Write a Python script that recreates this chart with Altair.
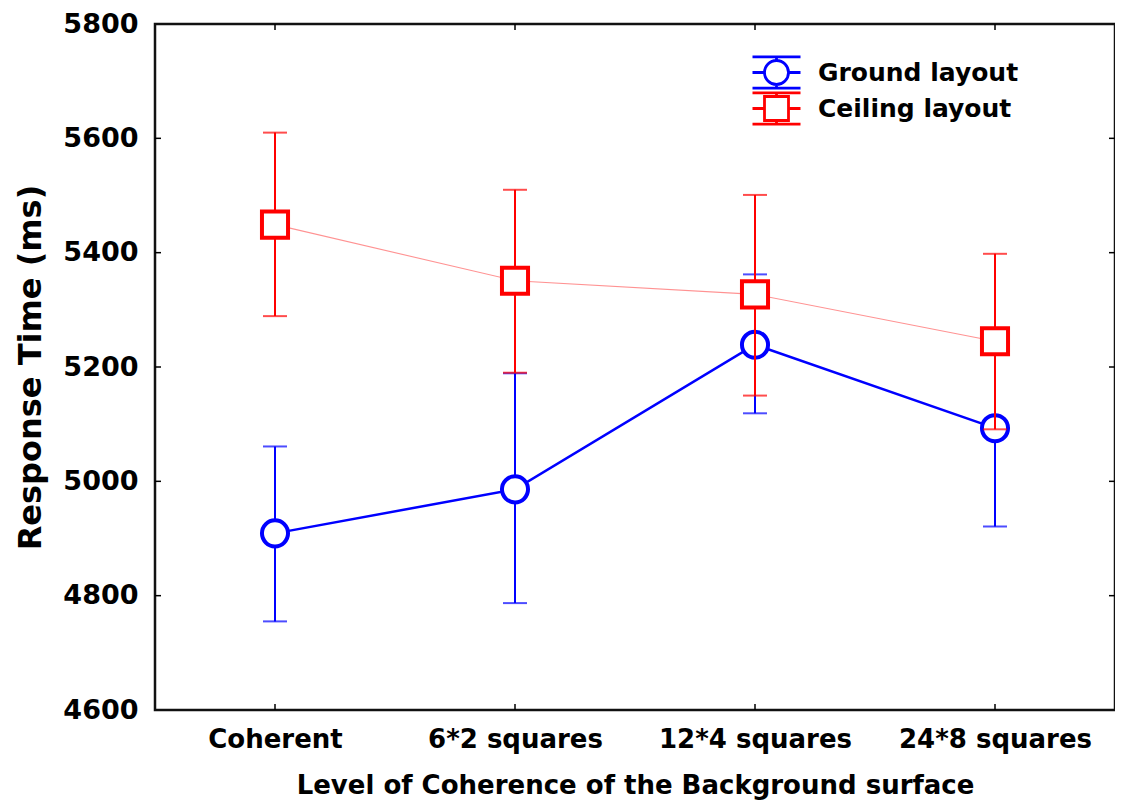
import altair as alt
import pandas as pd

categories = ["Coherent", "6*2 squares", "12*4 squares", "24*8 squares"]
series_names = ["Ground layout", "Ceiling layout"]

ground_mean = [4909, 4986, 5239, 5093]
ground_hi = [5061, 5189, 5362, 5265]
ground_lo = [4755, 4787, 5119, 4921]

ceiling_mean = [5449, 5351, 5327, 5245]
ceiling_hi = [5610, 5510, 5501, 5398]
ceiling_lo = [5289, 5190, 5150, 5091]

y_ticks = [4600, 4800, 5000, 5200, 5400, 5600, 5800]
inner_y_ticks = [4800, 5000, 5200, 5400, 5600]

BLUE = "#0000ff"
RED = "#ff0000"
FONT = "DejaVu Sans"

rows = []
for s, m, hi, lo in [
    (series_names[0], ground_mean, ground_hi, ground_lo),
    (series_names[1], ceiling_mean, ceiling_hi, ceiling_lo),
]:
    for c, mv, h, l in zip(categories, m, hi, lo):
        rows.append({"series": s, "cat": c, "mean": mv, "hi": h, "lo": l})
df = pd.DataFrame(rows)

W, H = 960, 686

xscale = alt.Scale(type="point", domain=categories, padding=0.5)
yscale = alt.Scale(domain=[4600, 5800], nice=False, zero=False)

xenc = alt.X(
    "cat:N",
    scale=xscale,
    sort=categories,
    axis=alt.Axis(
        title="Level of Coherence of the Background surface",
        labelAngle=0,
        labelAlign="center",
        ticks=False,
        domain=False,
        labelLimit=0,
        labelFont=FONT,
        labelFontSize=26,
        labelFontWeight="bold",
        labelColor="black",
        labelPadding=29,
        titleFont=FONT,
        titleFontSize=26,
        titleFontWeight="bold",
        titleColor="black",
        titlePadding=20,
    ),
)
yenc = alt.Y(
    "mean:Q",
    scale=yscale,
    axis=alt.Axis(
        title="Response Time (ms)",
        values=y_ticks,
        format="d",
        ticks=False,
        domain=False,
        grid=False,
        labelFont=FONT,
        labelFontSize=27,
        labelFontWeight="bold",
        labelColor="black",
        labelPadding=17,
        titleFont=FONT,
        titleFontSize=32,
        titleFontWeight="bold",
        titleColor="black",
        titlePadding=15,
    ),
)

base = alt.Chart(df)


def series_layers(name, color, line_width, line_color, line_opacity, shape):
    d = base.transform_filter(alt.datum.series == name)
    line = d.mark_line(color=line_color, strokeWidth=line_width, opacity=line_opacity).encode(
        x=xenc, y=yenc
    )
    bars = d.mark_rule(color=color, strokeWidth=2).encode(
        x=alt.X("cat:N", scale=xscale, sort=categories),
        y=alt.Y("lo:Q", scale=yscale),
        y2="hi:Q",
    )
    cap_hi = d.mark_tick(color=color, size=24, thickness=2, orient="horizontal").encode(
        x=alt.X("cat:N", scale=xscale, sort=categories),
        y=alt.Y("hi:Q", scale=yscale),
    )
    cap_lo = d.mark_tick(color=color, size=24, thickness=2, orient="horizontal").encode(
        x=alt.X("cat:N", scale=xscale, sort=categories),
        y=alt.Y("lo:Q", scale=yscale),
    )
    pts = d.mark_point(
        shape=shape, size=680, filled=False, fill="white", fillOpacity=1,
        stroke=color, strokeWidth=4, opacity=1
    ).encode(
        x=alt.X("cat:N", scale=xscale, sort=categories),
        y=alt.Y("mean:Q", scale=yscale),
    )
    return [line, bars, cap_hi, cap_lo, pts]


ground_layers = series_layers(series_names[0], BLUE, 2.5, BLUE, 1, "circle")
ceiling_layers = series_layers(series_names[1], RED, 1.1, "#ff7777", 0.8, "square")

# legend symbols: marker with error-bar whiskers
path_circle = (
    "M-1,0 A1,1 0 1,1 1,0 A1,1 0 1,1 -1,0 Z "
    "M-2,-1.3 L2,-1.3 M-2,1.3 L2,1.3 M-2,0 L-1,0 M1,0 L2,0 "
    "M0,-1.3 L0,-1 M0,1 L0,1.3"
)
path_square = (
    "M-1,-1 L1,-1 L1,1 L-1,1 Z "
    "M-2,-1.3 L2,-1.3 M-2,1.3 L2,1.3 M-2,0 L-1,0 M1,0 L2,0 "
    "M0,-1.3 L0,-1 M0,1 L0,1.3"
)

leg = dict(
    title=None,
    orient="none",
    legendX=608,
    legendY=35,
    labelFont=FONT,
    labelFontSize=25,
    labelFontWeight="bold",
    labelColor="black",
    labelLimit=0,
    symbolSize=576,
    symbolStrokeWidth=2.8,
    symbolOpacity=1,
    labelOffset=28,
    rowPadding=-7,
    padding=0,
)

legend_layer = base.mark_point(opacity=0, filled=False, strokeWidth=2.5).encode(
    x=alt.X("cat:N", scale=xscale, sort=categories),
    y=alt.Y("mean:Q", scale=yscale),
    color=alt.Color(
        "series:N",
        scale=alt.Scale(domain=series_names, range=[BLUE, RED]),
        sort=series_names,
        legend=alt.Legend(**leg),
    ),
    shape=alt.Shape(
        "series:N",
        scale=alt.Scale(domain=series_names, range=[path_circle, path_square]),
        sort=series_names,
        legend=alt.Legend(**leg),
    ),
)

# inward tick marks on all four sides of the frame
ydf = pd.DataFrame({"v": inner_y_ticks})
xdf = pd.DataFrame({"c": categories})
tick_left = alt.Chart(ydf).mark_rule(color="black", strokeWidth=1.5).encode(
    y=alt.Y("v:Q", scale=yscale), x=alt.value(0), x2=alt.value(6)
)
tick_right = alt.Chart(ydf).mark_rule(color="black", strokeWidth=1.5).encode(
    y=alt.Y("v:Q", scale=yscale), x=alt.value(W - 6), x2=alt.value(W)
)
tick_bottom = alt.Chart(xdf).mark_rule(color="black", strokeWidth=1.5).encode(
    x=alt.X("c:N", scale=xscale, sort=categories), y=alt.value(H - 6), y2=alt.value(H)
)
tick_top = alt.Chart(xdf).mark_rule(color="black", strokeWidth=1.5).encode(
    x=alt.X("c:N", scale=xscale, sort=categories), y=alt.value(0), y2=alt.value(6)
)

chart = (
    alt.layer(
        tick_left, tick_right, tick_bottom, tick_top,
        *ground_layers, *ceiling_layers, legend_layer,
    )
    .properties(
        width=W,
        height=H,
        autosize=alt.AutoSizeParams(type="none"),
        padding={"left": 147, "top": 16, "right": 0, "bottom": 90},
    )
    .configure_view(stroke="#111111", strokeWidth=2.5)
    .configure_axis(grid=False)
)

chart.save("out.html", embed_options={"renderer": "svg", "actions": False})
